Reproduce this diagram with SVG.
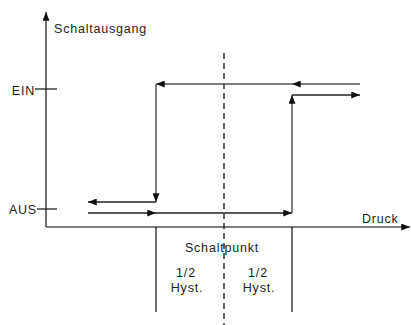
<svg xmlns="http://www.w3.org/2000/svg" width="411" height="325" viewBox="0 0 411 325">
<style>
text{font-family:"Liberation Sans",Arial,sans-serif;font-size:12.5px;letter-spacing:0.8px;fill:#222}
.ln{stroke:#222;stroke-width:1.3;fill:none}
.gr{stroke:#555;stroke-width:1.5;fill:none}
</style>
<defs>
<marker id="ah" viewBox="0 0 10 8" refX="10" refY="4" markerWidth="9" markerHeight="7" markerUnits="userSpaceOnUse" orient="auto">
<path d="M0,0 L10,4 L0,8 Z" fill="#111"/>
</marker>
</defs>
<rect width="411" height="325" fill="#fff"/>
<g id="axes">
<line class="ln" x1="46" y1="227" x2="46" y2="12" marker-end="url(#ah)"/>
<line class="gr" x1="46" y1="227" x2="410" y2="227" marker-end="url(#ah)"/>
<line class="ln" x1="35" y1="89" x2="57" y2="89"/>
<line class="ln" x1="37" y1="209" x2="57" y2="209"/>
<line class="ln" x1="156" y1="227" x2="156" y2="312"/>
<line class="ln" x1="292" y1="227" x2="292" y2="312"/>
<line x1="224" y1="53" x2="224" y2="325" stroke="#111" stroke-width="1.3" stroke-dasharray="6,4"/>
</g>
<g id="connectors">
<line class="gr" x1="360" y1="84" x2="292" y2="84" marker-end="url(#ah)"/>
<line class="gr" x1="292" y1="84" x2="156" y2="84" marker-end="url(#ah)"/>
<line class="gr" x1="156" y1="84" x2="156" y2="202" marker-end="url(#ah)"/>
<line class="ln" x1="156" y1="202" x2="88" y2="202" marker-end="url(#ah)"/>
<line class="ln" x1="88" y1="213" x2="156" y2="213" marker-end="url(#ah)"/>
<line class="ln" x1="156" y1="213" x2="292" y2="213" marker-end="url(#ah)"/>
<line class="gr" x1="292" y1="213" x2="292" y2="95" marker-end="url(#ah)"/>
<line class="ln" x1="292" y1="95" x2="360" y2="95" marker-end="url(#ah)"/>
</g>
<g id="labels">
<text x="54" y="33">Schaltausgang</text>
<text x="35" y="95" text-anchor="end">EIN</text>
<text x="37" y="214" text-anchor="end">AUS</text>
<text x="362" y="223">Druck</text>
<text x="222" y="252" text-anchor="middle">Schaltpunkt</text>
<text x="186" y="277" text-anchor="middle">1/2</text>
<text x="187" y="292" text-anchor="middle">Hyst.</text>
<text x="258" y="277" text-anchor="middle">1/2</text>
<text x="259" y="292" text-anchor="middle">Hyst.</text>
</g>
</svg>
